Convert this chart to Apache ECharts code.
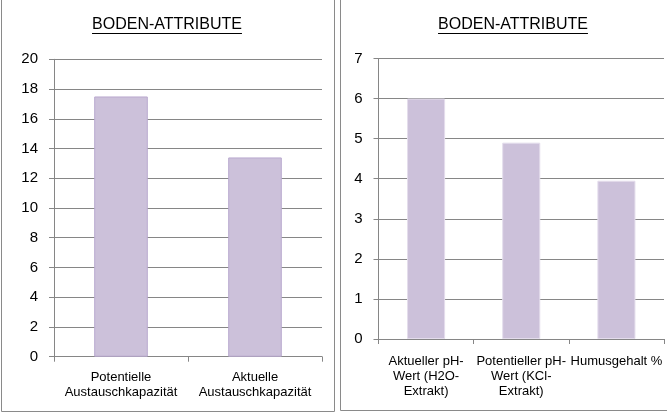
<!DOCTYPE html>
<html>
<head>
<meta charset="utf-8">
<script src="https://cdn.jsdelivr.net/npm/echarts@6/dist/echarts.min.js"></script>
<style>
  html, body { margin: 0; padding: 0; background: #fff; }
  #chart { width: 667px; height: 412px; }
</style>
</head>
<body>
<div id="chart"></div>
<script>
const chartTitle = 'BODEN-ATTRIBUTE';
const leftCategories = ['Potentielle\nAustauschkapazität', 'Aktuelle\nAustauschkapazität'];
const leftValues = [17.5, 13.4];
const rightCategories = ['Aktueller pH-\nWert (H2O-\nExtrakt)', 'Potentieller pH-\nWert (KCl-\nExtrakt)', 'Humusgehalt %'];
const rightValues = [6.0, 4.9, 3.95];

const FONT = 'Liberation Sans';
const TITLE_SIZE = 16;
const gray = '#868686';
const barFill = '#CCC1DA';

// canvas measure, used to size the title underline
function textWidth(txt, size) {
  const ctx = document.createElement('canvas').getContext('2d');
  ctx.font = size + 'px "' + FONT + '"';
  return ctx.measureText(txt).width;
}
const tw = textWidth(chartTitle, TITLE_SIZE);

function titleParts(cx) {
  return [
    {
      type: 'text', x: cx, y: 25, silent: true,
      style: {
        text: chartTitle, fontSize: TITLE_SIZE, fontFamily: FONT, fill: '#000',
        textAlign: 'center', align: 'center', textVerticalAlign: 'middle', verticalAlign: 'middle'
      }
    },
    {
      type: 'line', silent: true,
      shape: { x1: cx - tw / 2, y1: 33.5, x2: cx + tw / 2, y2: 33.5 },
      style: { stroke: '#000', lineWidth: 1 }
    }
  ];
}

function xAxisFor(gridIndex, data, margin) {
  return {
    type: 'category', gridIndex, data,
    axisLine: { lineStyle: { color: gray, width: 1 } },
    axisTick: { show: true, length: 5, lineStyle: { color: gray } },
    axisLabel: { interval: 0, color: '#000', fontFamily: FONT, fontSize: 13, lineHeight: 15, margin }
  };
}

function yAxisFor(gridIndex, max, interval) {
  return {
    type: 'value', gridIndex, min: 0, max, interval,
    axisLine: { show: true, lineStyle: { color: gray, width: 1 } },
    axisTick: { show: true, length: 5, lineStyle: { color: gray } },
    axisLabel: { color: '#000', fontFamily: FONT, fontSize: 15, margin: 16 },
    splitLine: { lineStyle: { color: gray, width: 1 } }
  };
}

const chart = echarts.init(document.getElementById('chart'), null, { renderer: 'canvas' });
chart.setOption({
  animation: false,
  backgroundColor: '#fff',
  grid: [
    { left: 54, top: 59.3, right: 345, bottom: 55.3 },
    { left: 378.5, top: 58.5, right: 3, bottom: 73 }
  ],
  xAxis: [xAxisFor(0, leftCategories, 13), xAxisFor(1, rightCategories, 15)],
  yAxis: [yAxisFor(0, 20, 2), yAxisFor(1, 7, 1)],
  series: [
    {
      type: 'bar', xAxisIndex: 0, yAxisIndex: 0, data: leftValues, barWidth: '40%',
      itemStyle: { color: barFill, borderColor: '#B9A9CF', borderWidth: 1 }
    },
    {
      type: 'bar', xAxisIndex: 1, yAxisIndex: 1, data: rightValues, barWidth: '40%',
      itemStyle: { color: barFill, borderColor: '#E4DDEC', borderWidth: 1 }
    }
  ],
  graphic: [
    { type: 'rect', silent: true, z: -10, shape: { x: 1.5, y: -5, width: 333, height: 416.5 },
      style: { fill: 'none', stroke: '#8a8a8a', lineWidth: 1 } },
    { type: 'rect', silent: true, z: -10, shape: { x: 340.5, y: -5, width: 340, height: 415.5 },
      style: { fill: 'none', stroke: '#8a8a8a', lineWidth: 1 } },
    ...titleParts(167),
    ...titleParts(513)
  ]
});
</script>
</body>
</html>
